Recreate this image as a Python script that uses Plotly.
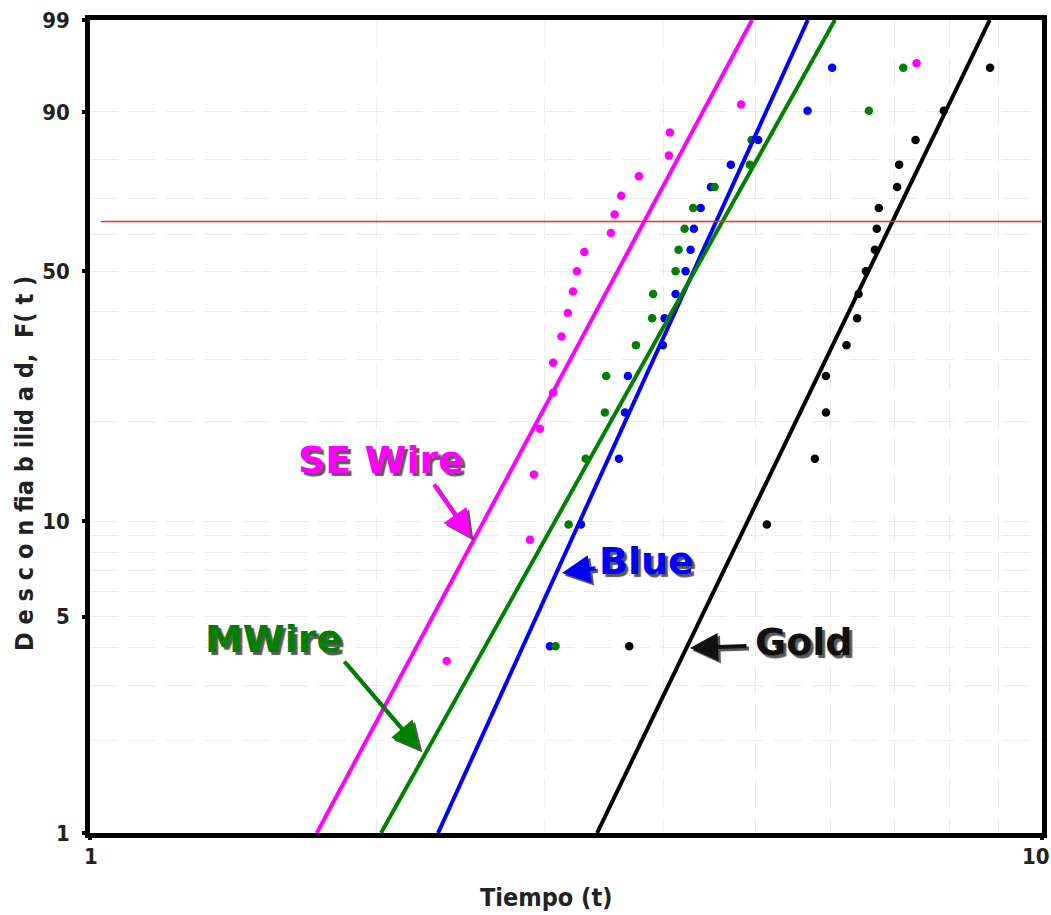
import numpy as np
import plotly.graph_objects as go

# Failure times (Tiempo) per wire type, ordered by rank
se_wire_t = [2.370, 2.899, 2.927, 2.970, 3.066, 3.066, 3.129, 3.177, 3.217, 3.248,
             3.306, 3.526, 3.558, 3.615, 3.773, 4.057, 4.067, 4.831, 7.386]
blue_t = [3.042, 3.280, 3.595, 3.648, 3.674, 3.998, 4.015, 4.123, 4.224, 4.276,
          4.310, 4.381, 4.491, 4.713, 5.035, 5.674, 6.022]
mwire_t = [3.084, 3.183, 3.317, 3.475, 3.486, 3.746, 3.896, 3.905, 4.123, 4.153,
           4.214, 4.302, 4.531, 4.934, 4.955, 6.581, 7.152]
gold_t = [3.686, 5.142, 5.775, 5.932, 5.932, 6.235, 6.397, 6.419, 6.534, 6.677,
          6.709, 6.742, 7.047, 7.081, 7.368, 7.889, 8.824]

# Unreliability (median rank, %) for each plotted point
f_19 = [3.61, 8.76, 13.92, 19.07, 24.23, 29.38, 34.54, 39.69, 44.85, 50.00,
        55.15, 60.31, 65.46, 70.62, 75.77, 80.93, 86.08, 91.24, 96.39]
f_17 = [4.02, 9.77, 15.52, 21.26, 27.01, 32.76, 38.51, 44.25, 50.00, 55.75,
        61.49, 67.24, 72.99, 78.74, 84.48, 90.23, 95.98]

# Weibull fit parameters (shape beta, scale eta)
fit_beta = {"SE Wire": 5.82, "Blue": 6.85, "MWire": 5.58, "Gold": 6.45}
fit_eta = {"SE Wire": 3.816, "Blue": 4.543, "MWire": 4.611, "Gold": 6.958}

colors = {"SE Wire": "#ff00ff", "Blue": "#0000ff", "MWire": "#008000", "Gold": "#000000"}

y_ticks = [1, 5, 10, 50, 90, 99]
y_minor = [2, 3, 4, 6, 7, 8, 9, 20, 30, 40, 60, 70, 80]
x_ticks = [1, 10]
x_minor = [2, 3, 4, 5, 6, 7, 8, 9]
char_level = 63.5  # characteristic-life reference level (%)


def wy(f_pct):
    f = np.asarray(f_pct, dtype=float) / 100.0
    return np.log(-np.log(1.0 - f))


fig = go.Figure()

series = [("SE Wire", se_wire_t, f_19), ("Blue", blue_t, f_17),
          ("MWire", mwire_t, f_17), ("Gold", gold_t, f_17)]

for name, t, f in series:
    fig.add_trace(go.Scatter(x=t, y=wy(f), mode="markers", name=name,
                             marker=dict(color=colors[name], size=8.5, line=dict(width=0)),
                             showlegend=False))

y_lo, y_hi = float(wy(1)), float(wy(99))
for name, _, _ in series:
    b, e = fit_beta[name], fit_eta[name]
    ys = np.array([y_lo, y_hi])
    ts = e * np.exp(ys / b)
    fig.add_trace(go.Scatter(x=ts, y=ys, mode="lines", showlegend=False,
                             line=dict(color=colors[name], width=4)))

# characteristic life reference line
fig.add_trace(go.Scatter(x=[1.027, 10], y=[float(wy(char_level))] * 2, mode="lines",
                         showlegend=False, line=dict(color="#ff2a12", width=1.5)))

L, R, T, B = 90, 9, 20, 82
W, H = 1051, 915
PW, PH = W - L - R, H - T - B


def px(x):
    return (x - L) / PW


def py(y):
    return (H - B - y) / PH


label_font = "DejaVu Sans, Verdana, sans-serif"
labels = [
    ("SE Wire", 381, 460, (433, 483), (471, 538)),
    ("MWire", 273, 639, (343, 660), (420, 750)),
    ("Blue", 646, 561, (597, 568), (562, 573)),
    ("Gold", 804, 642, (748, 646), (690, 648)),
]
annotations = []
for name, tx, ty, tail, head in labels:
    c = colors[name] if name != "Gold" else "#111111"
    # arrow shadow, then arrow
    for sx, sy, col in ((2.5, -2.5, "rgba(60,60,60,0.85)"), (0, 0, c)):
        annotations.append(dict(
            x=px(head[0]), y=py(head[1]), xref="paper", yref="paper", text="",
            showarrow=True, arrowhead=2, arrowsize=1.4, arrowwidth=4,
            arrowcolor=col, ax=tail[0] - head[0], ay=tail[1] - head[1],
            xshift=sx, yshift=sy, standoff=0))
    annotations.append(dict(
        x=px(tx), y=py(ty), xref="paper", yref="paper", showarrow=False,
        xanchor="center", yanchor="middle",
        text="<b>%s</b>" % name,
        font=dict(family=label_font, size=38, color=c,
                  shadow="3px 3px 1px rgba(60,60,60,0.85)")))

narrow = "DejaVu Sans Condensed, Liberation Sans Narrow, Arial Narrow, Liberation Sans, sans-serif"
tick_font = dict(family=narrow, size=22, color="#222222")

annotations.append(dict(
    x=px(25), y=py(464), xref="paper", yref="paper", showarrow=False, textangle=-90,
    xanchor="center", yanchor="middle",
    text="<b>D e s c o n fia b ilid a d,  F( t )</b>",
    font=dict(family=narrow, size=25, color="#222222")))
annotations.append(dict(
    x=px(546), y=py(897), xref="paper", yref="paper", showarrow=False,
    xanchor="center", yanchor="middle",
    text="<b>Tiempo (t)</b>",
    font=dict(family=narrow, size=25, color="#222222")))

grid_col = "#ebebeb"
fig.update_layout(
    width=W, height=H, margin=dict(l=L, r=R, t=T, b=B, autoexpand=False),
    paper_bgcolor="white", plot_bgcolor="white",
    annotations=annotations,
    xaxis=dict(type="log", range=[0, 1.0002], tickvals=x_ticks, automargin=False,
               ticktext=["<b>1</b>", "<b>10</b>"], ticklabeloverflow="allow",
               ticklabelposition="outside left", ticklabelshift=12,
               showline=True, linecolor="black", linewidth=4.5, mirror=True,
               showgrid=False, zeroline=False, ticks="outside", ticklen=2, tickwidth=4,
               tickcolor="black", tickfont=tick_font, ticklabelstandoff=0,
               minor=dict(tickvals=x_minor, showgrid=True, gridcolor=grid_col,
                          griddash="28px,10px", gridwidth=1, ticks="")),
    yaxis=dict(range=[y_lo, y_hi], tickvals=list(wy(y_ticks)), automargin=False,
               ticktext=["<b>%d</b>" % v for v in y_ticks],
               showline=True, linecolor="black", linewidth=4.5, mirror=True,
               showgrid=True, gridcolor=grid_col, griddash="28px,10px", gridwidth=1,
               zeroline=False, ticks="outside", ticklen=3, tickwidth=4,
               tickcolor="black", tickfont=tick_font, ticklabelstandoff=8,
               minor=dict(tickvals=list(wy(y_minor)), showgrid=True, gridcolor=grid_col,
                          griddash="28px,10px", gridwidth=1, ticks="")),
)

fig.write_html("out.html")
